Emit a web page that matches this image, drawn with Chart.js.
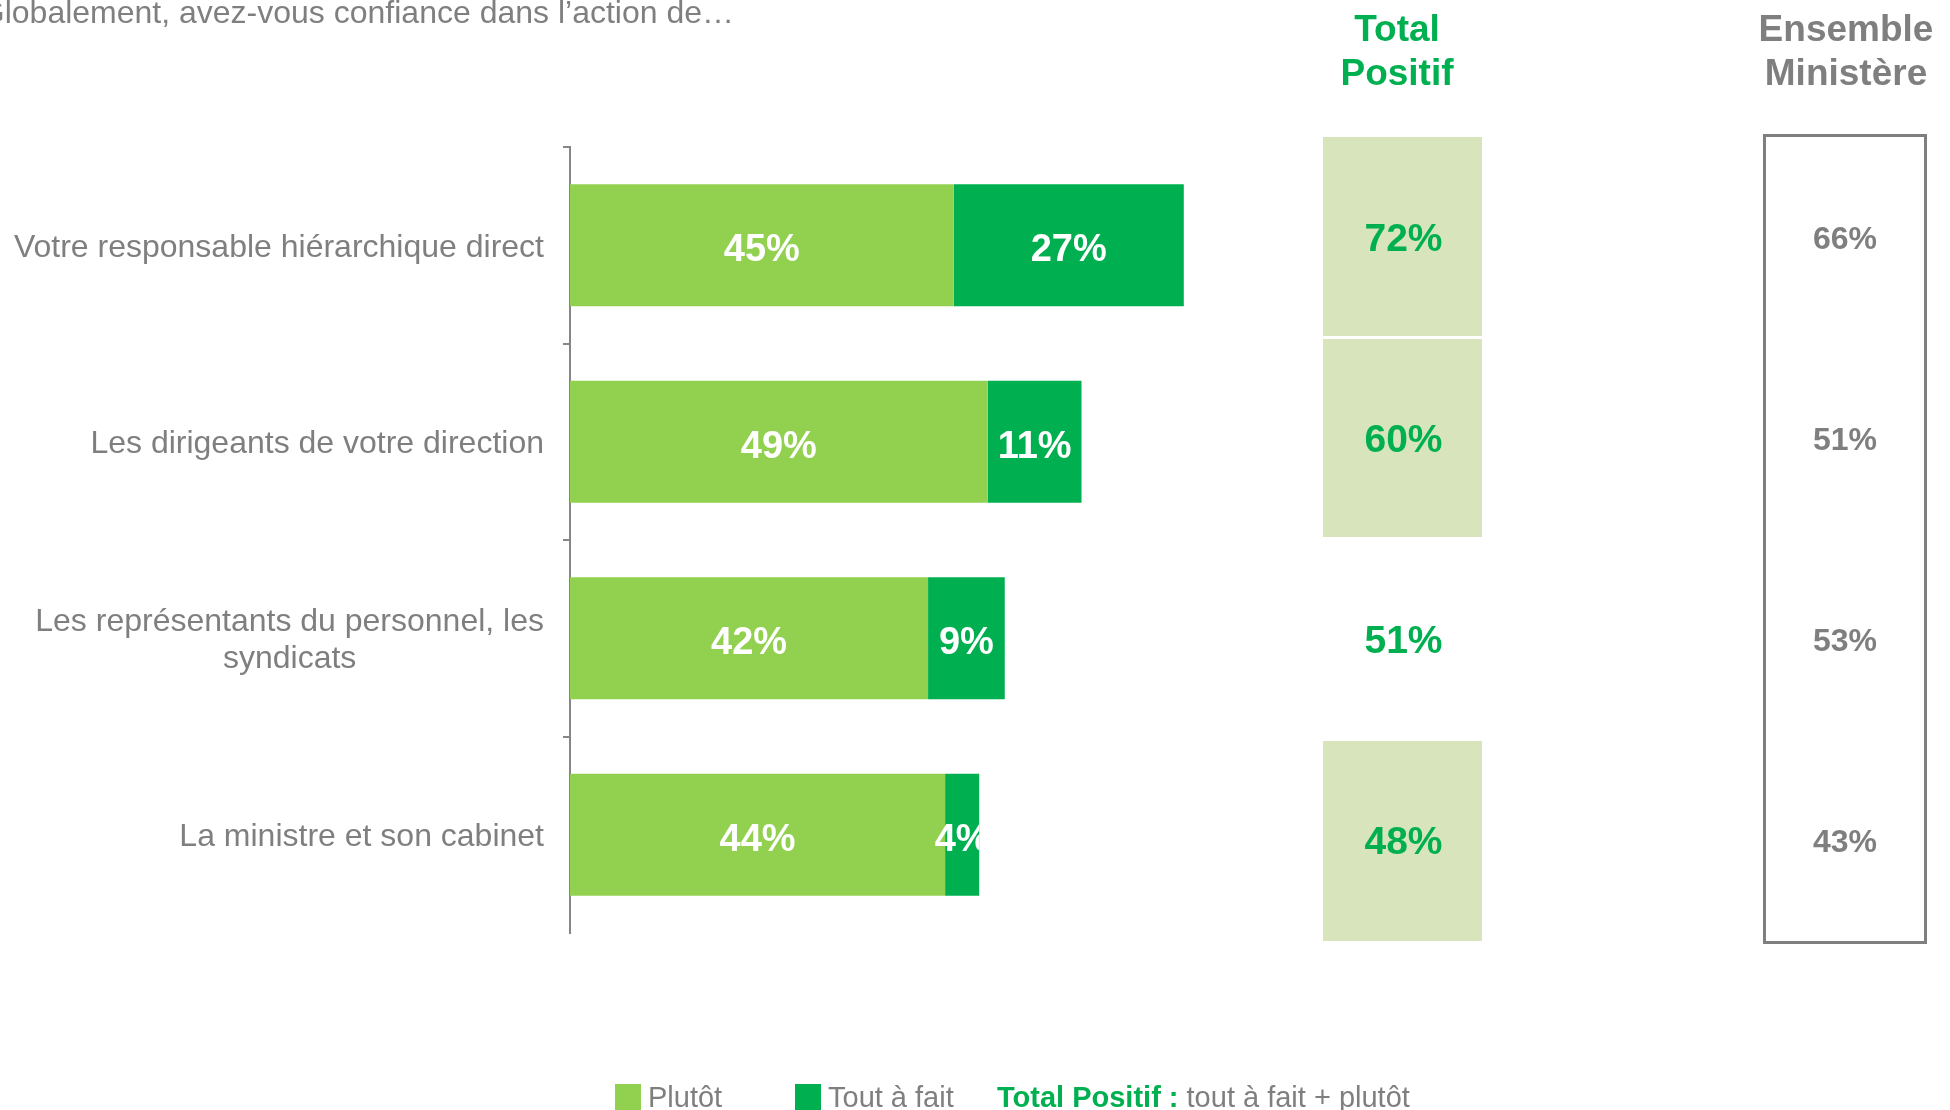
<!DOCTYPE html>
<html>
<head>
<meta charset="utf-8">
<script src="https://cdn.jsdelivr.net/npm/chart.js@4.4.1/dist/chart.umd.min.js"></script>
<style>
html,body{margin:0;padding:0;background:#fff;overflow:hidden}
#wrap{width:1950px;height:1110px;position:relative}
</style>
</head>
<body>
<div id="wrap"><canvas id="c" width="1950" height="1110"></canvas></div>
<script>
// ---- data ----
const categories = [
  ["Votre responsable hiérarchique direct"],
  ["Les dirigeants de votre direction"],
  ["Les représentants du personnel, les", "syndicats"],
  ["La ministre et son cabinet"]
];
const seriesNames = ["Plutôt", "Tout à fait"];
const plutot = [45, 49, 42, 44];
const toutAFait = [27, 11, 9, 4];
const totalPositif = [72, 60, 51, 48];
const ensembleMinistere = [66, 51, 53, 43];
const titleText = "Globalement, avez-vous confiance dans l’action de…";
const totalHeader = ["Total", "Positif"];
const ensembleHeader = ["Ensemble", "Ministère"];
const noteBold = "Total Positif :";
const noteText = "tout à fait + plutôt";

// ---- styles ----
const FONT = '"Liberation Sans", Arial, sans-serif';
const GRAY = '#7f7f7f';
const LIGHT = '#92d050';
const DARK = '#00b050';
const BOXFILL = '#d8e4bc';

const drawPlugin = {
  id: 'customDraw',
  afterDraw(chart) {
    const ctx = chart.ctx, ca = chart.chartArea, ys = chart.scales.y;
    ctx.save();

    // Title (cut off at left like the reference)
    ctx.fillStyle = GRAY;
    ctx.font = '32px ' + FONT;
    ctx.textAlign = 'right';
    ctx.textBaseline = 'alphabetic';
    ctx.fillText(titleText, 734, 23);

    // Category labels
    ctx.font = '32px ' + FONT;
    ctx.fillStyle = GRAY;
    ctx.textAlign = 'center';
    categories.forEach((lines, i) => {
      const yc = ys.getPixelForValue(i);
      const maxW = Math.max(...lines.map(l => ctx.measureText(l).width));
      const cx = ca.left - 26 - maxW / 2;
      lines.forEach((l, k) => {
        const ly = yc + (k - (lines.length - 1) / 2) * 37;
        ctx.fillText(l, cx, ly + 0.358 * 32);
      });
    });

    // Bar value labels (clipped to the whole stacked bar)
    const nds = chart.data.datasets.length;
    const lastMeta = chart.getDatasetMeta(nds - 1);
    chart.data.datasets.forEach((ds, di) => {
      const meta = chart.getDatasetMeta(di);
      meta.data.forEach((bar, j) => {
        const p = bar.getProps(['x', 'base', 'y', 'height'], true);
        const endX = lastMeta.data[j].getProps(['x'], true).x;
        ctx.save();
        ctx.beginPath();
        ctx.rect(ca.left, p.y - p.height / 2, endX - ca.left, p.height);
        ctx.clip();
        ctx.fillStyle = '#ffffff';
        ctx.font = 'bold 38px ' + FONT;
        ctx.textAlign = 'center';
        ctx.fillText(ds.data[j] + '%', (p.x + p.base) / 2, p.y + 2.5 + 0.358 * 38);
        ctx.restore();
      });
    });

    // Right-hand columns
    const colTop = ca.top - 10, colBottom = ca.bottom + 8;
    const rowH = (colBottom - colTop) / categories.length;
    const totX0 = 1323, totX1 = 1482, totCx = (totX0 + totX1) / 2;
    const ensX0 = 1763, ensX1 = 1927, ensCx = (ensX0 + ensX1) / 2;

    // headers
    ctx.font = 'bold 37px ' + FONT;
    ctx.textAlign = 'center';
    ctx.fillStyle = DARK;
    totalHeader.forEach((t, k) => ctx.fillText(t, 1397, 41 + k * 44));
    ctx.fillStyle = GRAY;
    ensembleHeader.forEach((t, k) => ctx.fillText(t, 1846, 41 + k * 44));

    // total positif boxes (filled when above ministry)
    totalPositif.forEach((v, i) => {
      const y0 = Math.round(colTop + i * rowH) + (i > 0 ? 1 : 0);
      const y1 = Math.round(colTop + (i + 1) * rowH) - (i < categories.length - 1 ? 2 : 0);
      if (v > ensembleMinistere[i]) {
        ctx.fillStyle = BOXFILL;
        ctx.fillRect(totX0, y0, totX1 - totX0, y1 - y0);
      }
      const yc = colTop + rowH * (i + 0.5);
      ctx.fillStyle = DARK;
      ctx.font = 'bold 39px ' + FONT;
      ctx.fillText(v + '%', totCx + 1, yc + 0.358 * 39);
    });

    // ensemble ministère box
    ctx.strokeStyle = GRAY;
    ctx.lineWidth = 3;
    ctx.strokeRect(ensX0 + 1.5, colTop - 1.5, ensX1 - ensX0 - 3, colBottom - colTop + 3);
    ensembleMinistere.forEach((v, i) => {
      const yc = colTop + rowH * (i + 0.5);
      ctx.fillStyle = GRAY;
      ctx.font = 'bold 32px ' + FONT;
      ctx.fillText(v + '%', ensCx, yc + 0.358 * 32);
    });

    // Legend
    ctx.textAlign = 'left';
    ctx.font = '29px ' + FONT;
    const legY = 1107;
    const legItems = [[615, LIGHT, seriesNames[0]], [795, DARK, seriesNames[1]]];
    legItems.forEach(([lx, col, txt]) => {
      ctx.fillStyle = col;
      ctx.fillRect(lx, 1084, 26, 26);
      ctx.fillStyle = GRAY;
      ctx.fillText(txt, lx + 33, legY);
    });
    ctx.font = 'bold 29px ' + FONT;
    ctx.fillStyle = DARK;
    ctx.fillText(noteBold, 997, legY);
    const w = ctx.measureText(noteBold + ' ').width;
    ctx.font = '29px ' + FONT;
    ctx.fillStyle = GRAY;
    ctx.fillText(noteText, 997 + w, legY);

    ctx.restore();
  }
};

new Chart(document.getElementById('c'), {
  type: 'bar',
  data: {
    labels: categories.map(c => c.join(' ')),
    datasets: [
      { label: seriesNames[0], data: plutot, backgroundColor: LIGHT, borderWidth: 0 },
      { label: seriesNames[1], data: toutAFait, backgroundColor: DARK, borderWidth: 0 }
    ]
  },
  options: {
    indexAxis: 'y',
    responsive: false,
    animation: false,
    devicePixelRatio: 1,
    layout: { padding: { top: 147, bottom: 177, left: 0, right: 698 } },
    datasets: { bar: { barPercentage: 0.62, categoryPercentage: 1.0 } },
    plugins: { legend: { display: false }, tooltip: { enabled: false }, title: { display: false } },
    scales: {
      x: { stacked: true, min: 0, max: 80, display: false },
      y: {
        stacked: true,
        grid: {
          display: true, drawOnChartArea: false, drawTicks: true, tickLength: 7, lineWidth: 2, offset: true,
          color: (c) => (c.type === 'tick' ? '#868686' : 'rgba(0,0,0,0)')
        },
        border: { display: true, color: '#868686', width: 2 },
        ticks: { display: false },
        afterFit: (s) => { s.width = 570; }
      }
    }
  },
  plugins: [drawPlugin]
});
</script>
</body>
</html>
